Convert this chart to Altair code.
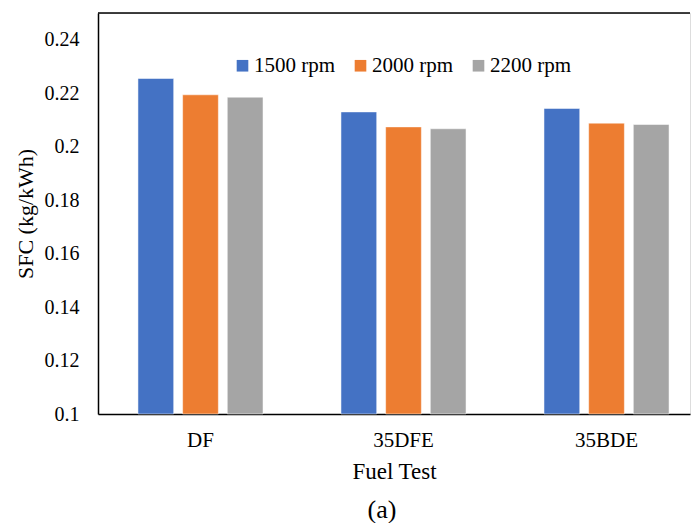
import altair as alt
import pandas as pd

fuels = ["DF", "35DFE", "35BDE"]
speeds = ["1500 rpm", "2000 rpm", "2200 rpm"]
sfc_1500 = [0.2255, 0.2130, 0.2143]
sfc_2000 = [0.2194, 0.2074, 0.2088]
sfc_2200 = [0.2185, 0.2067, 0.2083]
colors = ["#4472C4", "#ED7D31", "#A5A5A5"]
y_ticks = [0.1, 0.12, 0.14, 0.16, 0.18, 0.2, 0.22, 0.24]

rows = []
for series, name in zip([sfc_1500, sfc_2000, sfc_2200], speeds):
    for f, v in zip(fuels, series):
        rows.append({"fuel": f, "speed": name, "sfc": v})
df = pd.DataFrame(rows)

FONT = "Liberation Serif"
W, H = 592, 401

bars = alt.Chart(df).mark_bar(stroke="white", strokeWidth=0.5).encode(
    x=alt.X("fuel:N", sort=fuels,
            scale=alt.Scale(paddingInner=0.384, paddingOuter=0.15, align=0.656),
            axis=alt.Axis(title="Fuel Test", labelAngle=0, ticks=False,
                          domainColor="black", domainWidth=1.5,
                          labelFont=FONT, labelFontSize=21, labelColor="black",
                          labelPadding=15,
                          titleFont=FONT, titleFontSize=23, titleFontWeight="normal",
                          titleColor="black", titlePadding=10)),
    xOffset=alt.XOffset("speed:N", sort=speeds,
                        scale=alt.Scale(paddingInner=0.2, paddingOuter=0)),
    y=alt.Y("sfc:Q", scale=alt.Scale(domain=[0.1, 0.25], zero=False, nice=False),
            axis=alt.Axis(title="SFC (kg/kWh)", values=y_ticks, format="~g",
                          ticks=False, grid=False, domainColor="black", domainWidth=1.5,
                          labelFont=FONT, labelFontSize=20, labelColor="black",
                          labelPadding=19,
                          titleFont=FONT, titleFontSize=22, titleFontWeight="normal",
                          titleColor="black", titlePadding=7)),
    y2=alt.datum(0.1),
    color=alt.Color("speed:N", sort=speeds,
                    scale=alt.Scale(domain=speeds, range=colors),
                    legend=alt.Legend(title=None, orient="none", direction="horizontal",
                                      legendX=134, legendY=42,
                                      symbolType="square", symbolSize=135,
                                      symbolStrokeWidth=0,
                                      labelFont=FONT, labelFontSize=21, labelColor="black",
                                      labelOffset=1, columnPadding=14)),
)

top_line = alt.Chart(pd.DataFrame({"v": [0.25]})).mark_rule(
    color="black", strokeWidth=1.5
).encode(y="v:Q", x=alt.value(0), x2=alt.value(W))

chart = alt.layer(bars, top_line).properties(
    width=W, height=H,
    padding={"left": 6, "top": 4, "right": 0, "bottom": 0},
    title=alt.TitleParams("(a)", orient="bottom", anchor="middle", font=FONT,
                          fontSize=26, fontWeight="normal", color="black",
                          offset=14, dx=-12),
).configure_view(stroke=None).configure(background="white")

chart.save("out.html", embed_options={"renderer": "svg", "actions": False})
